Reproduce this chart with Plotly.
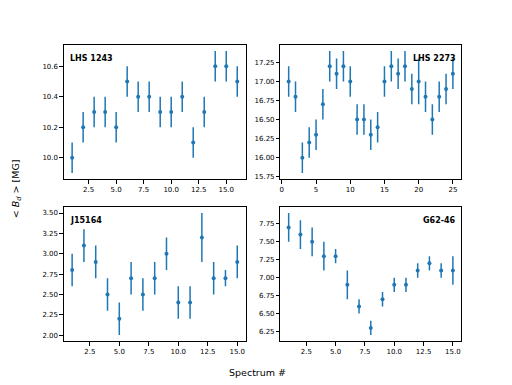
import plotly.graph_objects as go

# LHS 1243
x_lhs1243 = list(range(1, 17))
y_lhs1243 = [10.0, 10.2, 10.3, 10.3, 10.2, 10.5, 10.4, 10.4, 10.3, 10.3, 10.4, 10.1, 10.3, 10.6, 10.6, 10.5]
e_lhs1243 = [0.1] * 16

# LHS 2273
x_lhs2273 = list(range(1, 26))
y_lhs2273 = [17.0, 16.8, 16.0, 16.2, 16.3, 16.7, 17.2, 17.1, 17.2, 17.0, 16.5, 16.5, 16.3,
             16.4, 17.0, 17.2, 17.1, 17.2, 16.9, 17.0, 16.8, 16.5, 16.8, 16.9, 17.1]
e_lhs2273 = [0.2, 0.2, 0.2, 0.2, 0.2, 0.2, 0.2, 0.2, 0.2, 0.2, 0.2, 0.2, 0.2,
             0.2, 0.2, 0.2, 0.2, 0.2, 0.2, 0.3, 0.2, 0.2, 0.2, 0.2, 0.2]

# J15164
x_j15164 = list(range(1, 16))
y_j15164 = [2.8, 3.1, 2.9, 2.5, 2.2, 2.7, 2.5, 2.7, 3.0, 2.4, 2.4, 3.2, 2.7, 2.7, 2.9]
e_j15164 = [0.2, 0.2, 0.2, 0.2, 0.2, 0.2, 0.2, 0.2, 0.2, 0.2, 0.2, 0.3, 0.2, 0.1, 0.2]

# G62-46
x_g6246 = list(range(1, 16))
y_g6246 = [7.7, 7.6, 7.5, 7.3, 7.3, 6.9, 6.6, 6.3, 6.7, 6.9, 6.9, 7.1, 7.2, 7.1, 7.1]
e_g6246 = [0.2, 0.2, 0.2, 0.2, 0.1, 0.2, 0.1, 0.1, 0.1, 0.1, 0.1, 0.1, 0.1, 0.1, 0.2]

blue = '#1f77b4'
tick_font = dict(family='DejaVu Sans', size=7, color='black')
label_font = dict(family='DejaVu Sans', size=8, color='black')
title_font = dict(family='DejaVu Sans', size=9.5, color='black')

# page body has an 8px margin, so the figure is 504x377 and domains are set for that
xd_left, xd_right = [0.1091, 0.4702], [0.5397, 0.8988]
yd_top, yd_bot = [0.5438, 0.9019], [0.1114, 0.4695]

panels = [
    dict(name='LHS 1243', x=x_lhs1243, y=y_lhs1243, e=e_lhs1243, ax='', xd=xd_left, yd=yd_top,
         xr=[0.25, 16.75], yr=[9.86, 10.74], xt=[2.5, 5, 7.5, 10, 12.5, 15], xf='.1f',
         yt=[10.0, 10.2, 10.4, 10.6], yf='.1f', left=True),
    dict(name='LHS 2273', x=x_lhs2273, y=y_lhs2273, e=e_lhs2273, ax='2', xd=xd_right, yd=yd_top,
         xr=[-0.2, 26.2], yr=[15.72, 17.48], xt=[0, 5, 10, 15, 20, 25], xf='d',
         yt=[15.75, 16.0, 16.25, 16.5, 16.75, 17.0, 17.25], yf='.2f', left=False),
    dict(name='J15164', x=x_j15164, y=y_j15164, e=e_j15164, ax='3', xd=xd_left, yd=yd_bot,
         xr=[0.3, 15.7], yr=[1.925, 3.575], xt=[2.5, 5, 7.5, 10, 12.5, 15], xf='.1f',
         yt=[2.0, 2.25, 2.5, 2.75, 3.0, 3.25, 3.5], yf='.2f', left=True),
    dict(name='G62-46', x=x_g6246, y=y_g6246, e=e_g6246, ax='4', xd=xd_right, yd=yd_bot,
         xr=[0.3, 15.7], yr=[6.115, 7.985], xt=[2.5, 5, 7.5, 10, 12.5, 15], xf='.1f',
         yt=[6.25, 6.5, 6.75, 7.0, 7.25, 7.5, 7.75], yf='.2f', left=False),
]

fig = go.Figure()
axis_style = dict(showgrid=False, zeroline=False, showline=True, linecolor='black', linewidth=1,
                  mirror=True, ticks='outside', ticklen=3.5, tickwidth=0.8, tickcolor='black',
                  tickfont=tick_font)

for p in panels:
    fig.add_trace(go.Scatter(x=p['x'], y=p['y'], mode='markers',
                             marker=dict(color=blue, size=4),
                             error_y=dict(type='data', array=p['e'], color=blue, thickness=1.5, width=0),
                             xaxis='x' + p['ax'], yaxis='y' + p['ax'], showlegend=False))
    fig.update_layout({
        'xaxis' + p['ax']: dict(axis_style, domain=p['xd'], range=p['xr'], tickvals=p['xt'],
                                tickformat=p['xf'], anchor='y' + p['ax']),
        'yaxis' + p['ax']: dict(axis_style, domain=p['yd'], range=p['yr'], tickvals=p['yt'],
                                tickformat=p['yf'], anchor='x' + p['ax']),
    })
    fig.add_annotation(text='<b>' + p['name'] + '</b>', showarrow=False, font=label_font,
                       xref='x' + p['ax'] + ' domain', yref='y' + p['ax'] + ' domain',
                       x=0.02 if p['left'] else 0.985, y=0.95,
                       xanchor='left' if p['left'] else 'right', yanchor='top')

fig.add_annotation(text='Spectrum #', showarrow=False, font=title_font, xref='paper', yref='paper',
                   x=0.494, y=0.027, xanchor='center', yanchor='middle')
fig.add_annotation(text='&lt; <i>B</i><sub><i>d</i></sub> &gt; [MG]', showarrow=False, font=title_font,
                   textangle=-90, xref='paper', yref='paper', x=0.014, y=0.517,
                   xanchor='center', yanchor='middle')

fig.update_layout(width=504, height=377, margin=dict(l=0, r=0, t=0, b=0),
                  plot_bgcolor='white', paper_bgcolor='white', font=label_font)
fig.write_html("out.html")
